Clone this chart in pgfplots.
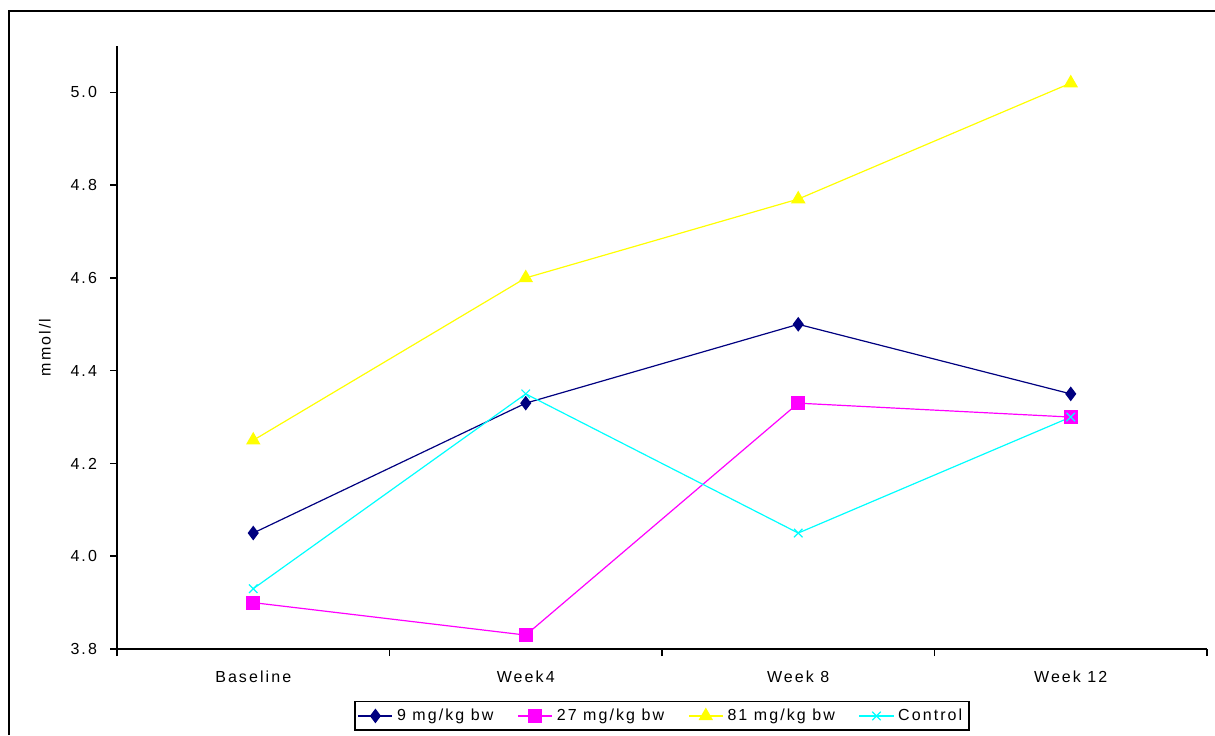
\documentclass[border=0pt]{standalone}
\usepackage{fontspec}
\setmainfont{Liberation Sans}[LetterSpace=13]
\usepackage{pgfplots}
\pgfplotsset{compat=1.18}
\definecolor{cnavy}{HTML}{000080}
\definecolor{cmag}{HTML}{FF00FF}
\definecolor{cyel}{HTML}{FFFF00}
\definecolor{ccyan}{HTML}{00FFFF}
\begin{document}
\begin{tikzpicture}
\useasboundingbox (0,0) rectangle (607.5pt,367.5pt);
\draw[line width=1.2pt] (4.5pt,0) -- (4.5pt,362pt) -- (607.5pt,362pt);
\begin{axis}[
  scale only axis, width=545pt, height=301.5pt,
  at={(58.5pt,43pt)}, anchor=south west,
  xmin=0, xmax=4, ymin=3.8, ymax=5.1,
  axis x line=bottom, axis y line=left,
  axis line style={-, line width=0.8pt, black},
  every tick/.style={black, line width=0.8pt},
  tick align=outside, major tick length=3.5pt,
  xtick={0,1,2,3,4}, xticklabels={,,,,},
  extra x ticks={0.5,1.5,2.5,3.5},
  extra x tick labels={Baseline,Week4,Week 8,Week 12},
  extra x tick style={major tick length=0pt, tick label style={yshift=-7.5pt}},
  ytick={3.8,4.0,4.2,4.4,4.6,4.8,5.0},
  /pgf/number format/fixed, /pgf/number format/fixed zerofill,
  /pgf/number format/precision=1, /pgf/number format/assume math mode=true,
  yticklabel style={xshift=-3pt},
  tick label style={font=\fontsize{8}{9.6}\selectfont, black},
  ylabel={mmol/l},
  ylabel style={at={(axis description cs:0,0.5)}, anchor=center, rotate=0, yshift=36pt, font=\fontsize{8}{9.6}\selectfont},
  legend columns=4,
  legend style={at={(axis description cs:0.5,-0.111)}, anchor=center,
    draw=black, line width=0.8pt, font=\fontsize{8}{9.6}\selectfont,
    inner sep=1.5pt,
    /tikz/every even column/.append style={column sep=10pt}},
  legend cell align=left,
]
\addplot[color=cnavy, line width=0.6pt, mark=diamond*, mark size=3.2pt, mark options={solid, fill=cnavy}]
  coordinates {(0.5,4.05) (1.5,4.33) (2.5,4.50) (3.5,4.35)};
\addlegendentry{9 mg/kg bw}
\addplot[color=cmag, line width=0.6pt, mark=square*, mark size=3.2pt, mark options={solid, fill=cmag}]
  coordinates {(0.5,3.90) (1.5,3.83) (2.5,4.33) (3.5,4.30)};
\addlegendentry{27 mg/kg bw}
\addplot[color=cyel, line width=0.6pt, mark=triangle*, mark size=3.6pt, mark options={solid, fill=cyel}]
  coordinates {(0.5,4.25) (1.5,4.60) (2.5,4.77) (3.5,5.02)};
\addlegendentry{81 mg/kg bw}
\addplot[color=ccyan, line width=0.6pt, mark=x, mark size=3pt, mark options={solid}]
  coordinates {(0.5,3.93) (1.5,4.35) (2.5,4.05) (3.5,4.30)};
\addlegendentry{Control}
\end{axis}
\end{tikzpicture}
\end{document}
